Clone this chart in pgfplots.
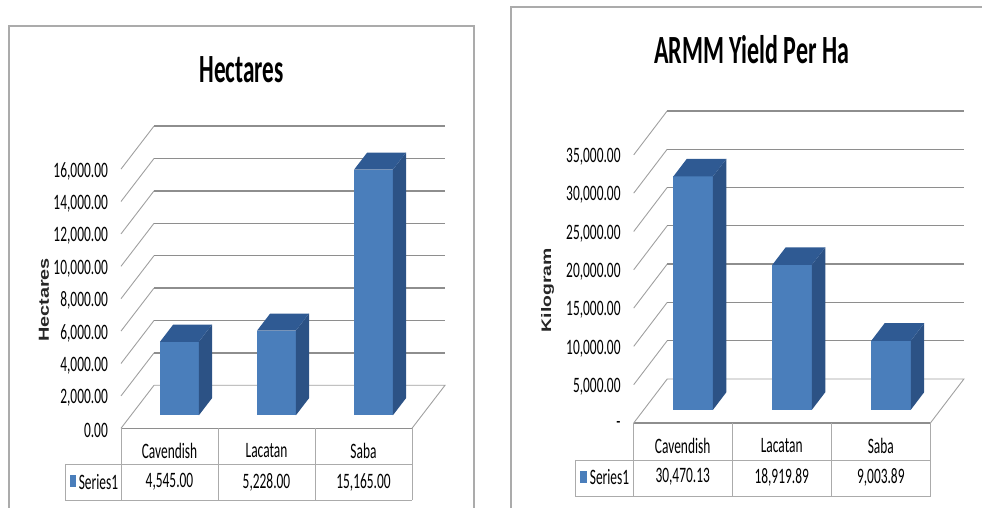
\documentclass[border=0pt]{standalone}
\usepackage{fontspec}
\setmainfont{Carlito}
\newfontfamily\axisfont{Liberation Sans}
\usepackage{pgfplots}
\pgfplotsset{compat=1.18}

\definecolor{barfront}{HTML}{4A7EBB}
\definecolor{barside}{HTML}{2C5285}
\definecolor{bartop}{HTML}{2F5A93}
\definecolor{gridgray}{HTML}{8E8E8E}
\definecolor{wallgray}{HTML}{A0A0A0}
\definecolor{framegray}{HTML}{ABABAB}

% one solid column: {category centre}{value}
\newcommand{\solidbar}[2]{%
  \pgfmathsetmacro{\xa}{#1-0.2}%
  \pgfmathsetmacro{\xb}{#1+0.2}%
  \edef\barcmd{%
    \noexpand\addplot3[fill=barfront,draw=none] coordinates {(\xa,0.3,0)(\xb,0.3,0)(\xb,0.3,#2)(\xa,0.3,#2)};
    \noexpand\addplot3[fill=barside,draw=none] coordinates {(\xb,0.3,0)(\xb,0.7,0)(\xb,0.7,#2)(\xb,0.3,#2)};
    \noexpand\addplot3[fill=bartop,draw=none] coordinates {(\xa,0.3,#2)(\xb,0.3,#2)(\xb,0.7,#2)(\xa,0.7,#2)};
  }\barcmd
}

\pgfplotsset{
  oblique/.style={
    clip=false, no markers,
    xmin=0, xmax=3, ymin=0, ymax=1,
    axis line style={draw=none},
    tick style={draw=none},
    xtick=\empty, ytick=\empty,
    ztick pos=left,
    scaled z ticks=false,
    z tick label style={anchor=east, xshift=-11pt, yshift=-2pt, xscale=0.61,
      font=\fontsize{22}{22}\selectfont, text=black},
  },
  % wall and back-wall rules at one value
  rule/.style={gridgray,line width=1.3pt},
  wall/.style={wallgray,line width=0.9pt},
}

\begin{document}
\begin{tikzpicture}[x=1pt,y=1pt]
\path[use as bounding box] (0,0) rectangle (982,508);

% panel frames
\draw[framegray,line width=1.1pt] (9,-1) -- (9,482) -- (474,482) -- (474,-1);
\draw[framegray,line width=1.1pt] (511,-1) -- (511,501) -- (983,501);

% ---------- Hectares ----------
\begin{axis}[oblique,
  at={(121pt,79.7pt)}, anchor=origin,
  x={(97pt,0pt)}, y={(33pt,43pt)}, z={(0pt,0.0162pt)},
  zmin=0, zmax=16000,
  ztick={0,2000,4000,6000,8000,10000,12000,14000,16000},
  zticklabels={0.00,{2,000.00},{4,000.00},{6,000.00},{8,000.00},{10,000.00},{12,000.00},{14,000.00},{16,000.00}},
]
\pgfplotsinvokeforeach{2000,4000,6000,8000,10000,12000,14000,16000}{
  \addplot3[wall] coordinates {(0,0,#1)(0,1,#1)};
  \addplot3[rule] coordinates {(0,1,#1)(3,1,#1)};
}
\addplot3[wall] coordinates {(0,1,0)(3,1,0)(3,0,0)};
\addplot3[rule] coordinates {(3,0,0)(0,0,0)};
\addplot3[wall] coordinates {(0,0,0)(0,1,0)};
\solidbar{0.5}{4545}
\solidbar{1.5}{5228}
\solidbar{2.5}{15165}
\end{axis}

\node[xscale=0.58,font=\bfseries\fontsize{40}{40}\selectfont,text=black] at (241.5,438) {Hectares};
\node[rotate=90,font=\axisfont\bfseries\fontsize{10}{10}\selectfont,text=black!85] at (44,208)
  {\resizebox{84pt}{10pt}{Hectares}};

% data table under the chart
\draw[framegray,line width=0.9pt]
  (121,80) -- (121,8) (218,80) -- (218,8) (315,80) -- (315,8) (412,80) -- (412,8)
  (65,44) -- (412,44) (65,8) -- (412,8) (65,44) -- (65,8);
\fill[barfront] (70,21) rectangle (76,32.5);
\begin{scope}[every node/.style={xscale=0.61,font=\fontsize{22}{22}\selectfont,text=black}]
  \node at (169.5,57) {Cavendish};
  \node at (266.5,57) {Lacatan};
  \node at (363.5,57) {Saba};
  \node at (98.5,26) {Series1};
  \node at (169.5,26) {4,545.00};
  \node at (266.5,26) {5,228.00};
  \node at (363.5,26) {15,165.00};
\end{scope}

% ---------- ARMM Yield Per Ha ----------
\begin{axis}[oblique,
  at={(633.7pt,85pt)}, anchor=origin,
  x={(98.9pt,0pt)}, y={(33.5pt,44pt)}, z={(0pt,0.00766pt)},
  zmin=0, zmax=35000,
  ztick={0,5000,10000,15000,20000,25000,30000,35000},
  zticklabels={-,{5,000.00},{10,000.00},{15,000.00},{20,000.00},{25,000.00},{30,000.00},{35,000.00}},
]
\pgfplotsinvokeforeach{5000,10000,15000,20000,25000,30000,35000}{
  \addplot3[wall] coordinates {(0,0,#1)(0,1,#1)};
  \addplot3[rule] coordinates {(0,1,#1)(3,1,#1)};
}
\addplot3[wall] coordinates {(0,1,0)(3,1,0)(3,0,0)};
\addplot3[rule] coordinates {(3,0,0)(0,0,0)};
\addplot3[wall] coordinates {(0,0,0)(0,1,0)};
\solidbar{0.5}{30470.13}
\solidbar{1.5}{18919.89}
\solidbar{2.5}{9003.89}
\end{axis}

\node[xscale=0.60,font=\bfseries\fontsize{40}{40}\selectfont,text=black] at (751.7,458) {ARMM Yield Per Ha};
\node[rotate=90,font=\axisfont\bfseries\fontsize{10}{10}\selectfont,text=black!85] at (547.7,218)
  {\resizebox{84pt}{10pt}{Kilogram}};

\draw[framegray,line width=0.9pt]
  (633.5,85) -- (633.5,11.3) (732,85) -- (732,11.3) (831.3,85) -- (831.3,11.3) (930.3,85) -- (930.3,11.3)
  (575.3,48) -- (930.3,48) (575.3,11.3) -- (930.3,11.3) (575.3,48) -- (575.3,11.3);
\fill[barfront] (580,24.7) rectangle (587,37.3);
\begin{scope}[every node/.style={xscale=0.61,font=\fontsize{22}{22}\selectfont,text=black}]
  \node at (682.7,62) {Cavendish};
  \node at (781.7,62) {Lacatan};
  \node at (880.8,62) {Saba};
  \node at (609.5,31) {Series1};
  \node at (682.7,31) {30,470.13};
  \node at (781.7,31) {18,919.89};
  \node at (880.8,31) {9,003.89};
\end{scope}
\end{tikzpicture}
\end{document}
